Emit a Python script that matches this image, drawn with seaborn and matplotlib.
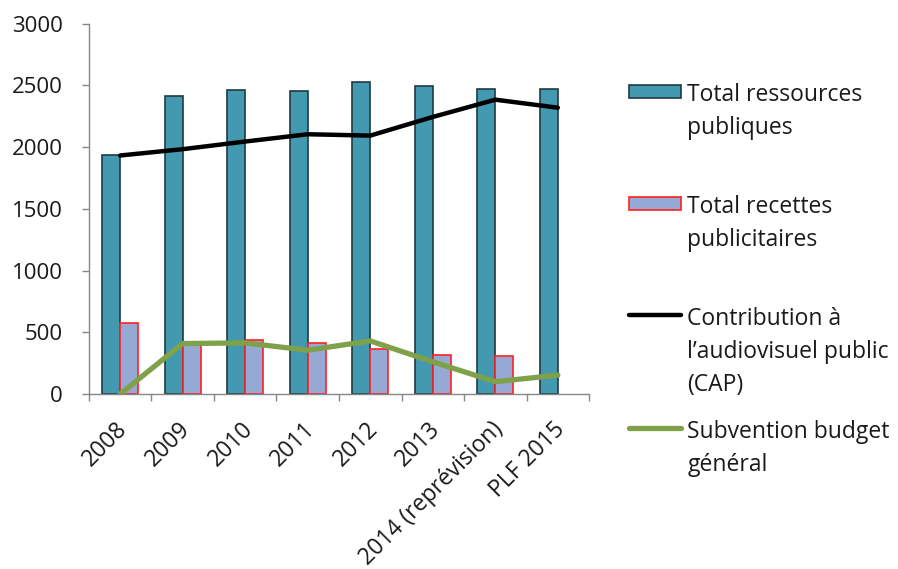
import numpy as np
import pandas as pd
import matplotlib
matplotlib.use('Agg')
import matplotlib.pyplot as plt
import seaborn as sns
from matplotlib.patches import Patch, Rectangle
from matplotlib.lines import Line2D
from matplotlib.legend_handler import HandlerPatch
from matplotlib.ticker import FixedLocator
from matplotlib.transforms import ScaledTranslation

# valeurs (millions d'euros)
annees = ['2008', '2009', '2010', '2011', '2012', '2013', '2014 (reprévision)', 'PLF 2015']
ressources = [1937, 2411, 2462, 2451, 2526, 2494, 2472, 2472]
recettes_pub = [579, 405, 436, 414, 363, 320, 309, np.nan]
cap = [1932, 1983, 2045, 2104, 2093, 2244, 2384, 2319]
subvention = [0, 409, 414, 355, 430, 261, 100, 153]

lab_res = 'Total ressources\npubliques'
lab_pub = 'Total recettes\npublicitaires'
lab_cap = 'Contribution à\nl\u2019audiovisuel public\n(CAP)'
lab_sub = 'Subvention budget\ngénéral'

sns.set_style('white')
plt.rcParams['font.family'] = ['Open Sans', 'DejaVu Sans']

df = pd.DataFrame({'annee': annees * 2,
                   'valeur': ressources + recettes_pub,
                   'serie': [lab_res] * 8 + [lab_pub] * 8})

teal = '#4299B0'
teal_edge = '#1E3B42'
lav = '#95A9D4'
red = '#FF2020'
green = '#7EA14A'
grey = '#868686'
txt = '#1a1a1a'

fig = plt.figure(figsize=(8.98, 5.69), dpi=100)
ax = fig.add_axes([0.099, 0.3075, 0.557, 0.651])

sns.barplot(data=df, x='annee', y='valeur', hue='serie', order=annees,
            palette=[teal, lav], width=0.58, ax=ax, legend=False,
            saturation=1)
for cont, ec in zip(ax.containers, [teal_edge, red]):
    for b in cont:
        b.set_edgecolor(ec)
        b.set_linewidth(1.2)

pos = np.arange(len(annees))
sns.lineplot(x=pos, y=cap, color='black', lw=3.2, ax=ax)
sns.lineplot(x=pos, y=subvention, color=green, lw=3.8, ax=ax)

ax.set_xlim(-0.5, len(annees) - 0.5)
ax.set_ylim(0, 3000)
ax.set_yticks(range(0, 3001, 500))
ax.set_xlabel('')
ax.set_ylabel('')
for s in ['top', 'right']:
    ax.spines[s].set_visible(False)
for s in ['left', 'bottom']:
    ax.spines[s].set_color(grey)
    ax.spines[s].set_linewidth(1)

ax.set_xticks(pos)
ax.set_xticklabels(annees, rotation=45, ha='right', va='center', rotation_mode='anchor')
ax.xaxis.set_minor_locator(FixedLocator(np.arange(-0.5, len(annees), 1)))
ax.tick_params(axis='x', which='major', length=0, labelsize=16.5, pad=10, labelcolor=txt)
ax.tick_params(axis='x', which='minor', length=5, color=grey, width=1, direction='out', bottom=True)
ax.tick_params(axis='y', length=5, color=grey, width=1, direction='out', left=True,
               labelsize=16, pad=14, labelcolor=txt)
# decaler les etiquettes inclinees vers le bas / la droite
decal = ScaledTranslation(0.04, -0.18, fig.dpi_scale_trans)
for lab in ax.get_xticklabels():
    lab.set_transform(lab.get_transform() + decal)


# poignee rectangulaire plus basse que la boite, centree
def petit_rect(legend, orig_handle, xdescent, ydescent, width, height, fontsize):
    h = 0.57 * fontsize
    return Rectangle((-xdescent, -ydescent + (height - h) / 2), width, h)


handles = [Patch(facecolor=teal, edgecolor=teal_edge, lw=1.2),
           Patch(facecolor=lav, edgecolor=red, lw=1.2),
           Line2D([], [], color='black', lw=3.2),
           Line2D([], [], color=green, lw=3.8)]
labels = [lab_res, lab_pub, lab_cap, lab_sub]
tops = [83, 195, 307, 420]

for hd, lb, top in zip(handles, labels, tops):
    leg = fig.legend([hd], [lb], loc='upper left',
                     bbox_to_anchor=(629 / 898, 1 - top / 569),
                     frameon=False, fontsize=16.5, handlelength=2.27, handleheight=0.8,
                     handletextpad=0.28, borderpad=0, borderaxespad=0,
                     handler_map={Patch: HandlerPatch(patch_func=petit_rect)})
    for col in leg._legend_handle_box.get_children():
        for row in col.get_children():
            row.align = 'top'
    for t in leg.get_texts():
        t.set_linespacing(1.5)
        t.set_color(txt)

fig.savefig('out.png', dpi=100)
